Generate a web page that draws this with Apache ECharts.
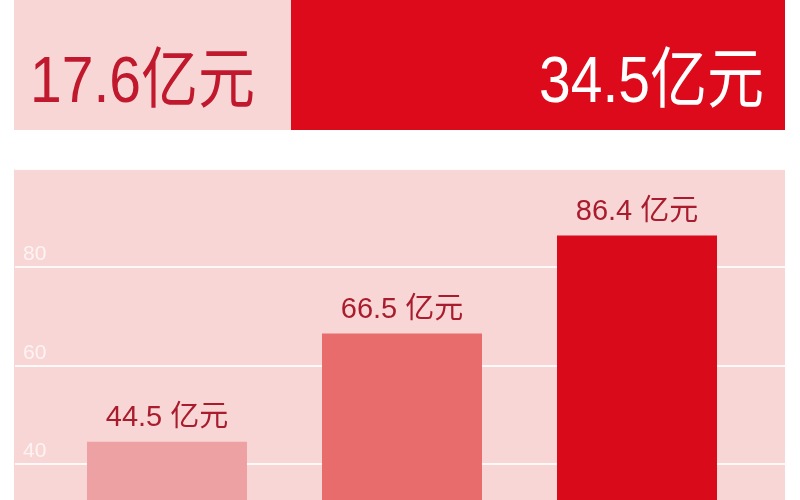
<!DOCTYPE html>
<html>
<head>
<meta charset="utf-8">
<script src="https://cdn.jsdelivr.net/npm/echarts@6/dist/echarts.min.js"></script>
<style>
  html, body { margin: 0; padding: 0; background: #fff; }
  #chart { width: 800px; height: 500px; }
</style>
</head>
<body>
<div id="chart"></div>
<script>
// top summary figures
const topValues = [17.6, 34.5];
const topUnit = '亿元';

// bar chart
const categories = ['一', '二', '三'];
const values = [44.5, 66.5, 86.4];
const barColors = ['#eda1a3', '#e86c6c', '#d90b1b'];
const yTicks = [40, 60, 80];

const FONT = '"Liberation Sans", "Noto Sans CJK SC", sans-serif';
const PANEL_PINK = '#f9d6d6';
const RED = '#dd0a1b';
const LABEL_RED = '#a81c2e';

const chart = echarts.init(document.getElementById('chart'), null, { renderer: 'canvas' });

const option = {
  backgroundColor: '#ffffff',
  animation: false,
  graphic: [
    { type: 'rect', z: -10, shape: { x: 14, y: 0, width: 277, height: 130 }, style: { fill: PANEL_PINK } },
    { type: 'rect', z: -10, shape: { x: 291, y: 0, width: 494, height: 130 }, style: { fill: RED } },
    { type: 'rect', z: -10, shape: { x: 14, y: 169.5, width: 771, height: 331 }, style: { fill: PANEL_PINK } },
    {
      // the original type is a tall, narrow face: stretch it a bit
      type: 'text', z: 10, x: 30, y: 116.5, scaleY: 1.15,
      style: { text: topValues[0] + topUnit, fill: '#c0182d', font: '57px ' + FONT, textVerticalAlign: 'bottom' }
    },
    {
      type: 'text', z: 10, x: 764, y: 116.5, scaleY: 1.15,
      style: { text: topValues[1] + topUnit, fill: '#ffffff', font: '57px ' + FONT, textAlign: 'right', textVerticalAlign: 'bottom' }
    }
  ],
  grid: [
    // full-width grid only for the horizontal guide lines
    { left: 15, right: 15, top: 168.5, height: 394, outerBoundsMode: 'none', containLabel: false },
    // bars
    { left: 49.5, right: 45.5, top: 168.5, height: 394, outerBoundsMode: 'none', containLabel: false }
  ],
  xAxis: [
    { gridIndex: 0, type: 'category', data: categories, show: false },
    { gridIndex: 1, type: 'category', data: categories, show: false }
  ],
  yAxis: [
    {
      gridIndex: 0, type: 'value', min: 20, max: 100, interval: 20,
      axisLine: { show: false }, axisTick: { show: false },
      splitLine: { lineStyle: { color: 'rgba(255,255,255,0.85)', width: 2 } },
      axisLabel: {
        inside: true, margin: 8, align: 'left', verticalAlign: 'bottom',
        padding: [0, 0, 2, 0],
        color: 'rgba(255,255,255,0.7)', fontSize: 21, fontFamily: FONT,
        formatter: v => (yTicks.indexOf(v) >= 0 ? String(v) : '')
      }
    },
    { gridIndex: 1, type: 'value', min: 20, max: 100, show: false, splitLine: { show: false } }
  ],
  series: [
    {
      type: 'bar',
      xAxisIndex: 1,
      yAxisIndex: 1,
      barWidth: 160,
      z: 5,
      data: values.map((v, i) => ({ value: v, itemStyle: { color: barColors[i] } })),
      label: {
        show: true,
        position: 'top',
        distance: 9,
        color: LABEL_RED,
        fontSize: 29,
        fontFamily: FONT,
        formatter: p => p.value + ' 亿元'
      }
    }
  ]
};

chart.setOption(option);
</script>
</body>
</html>
